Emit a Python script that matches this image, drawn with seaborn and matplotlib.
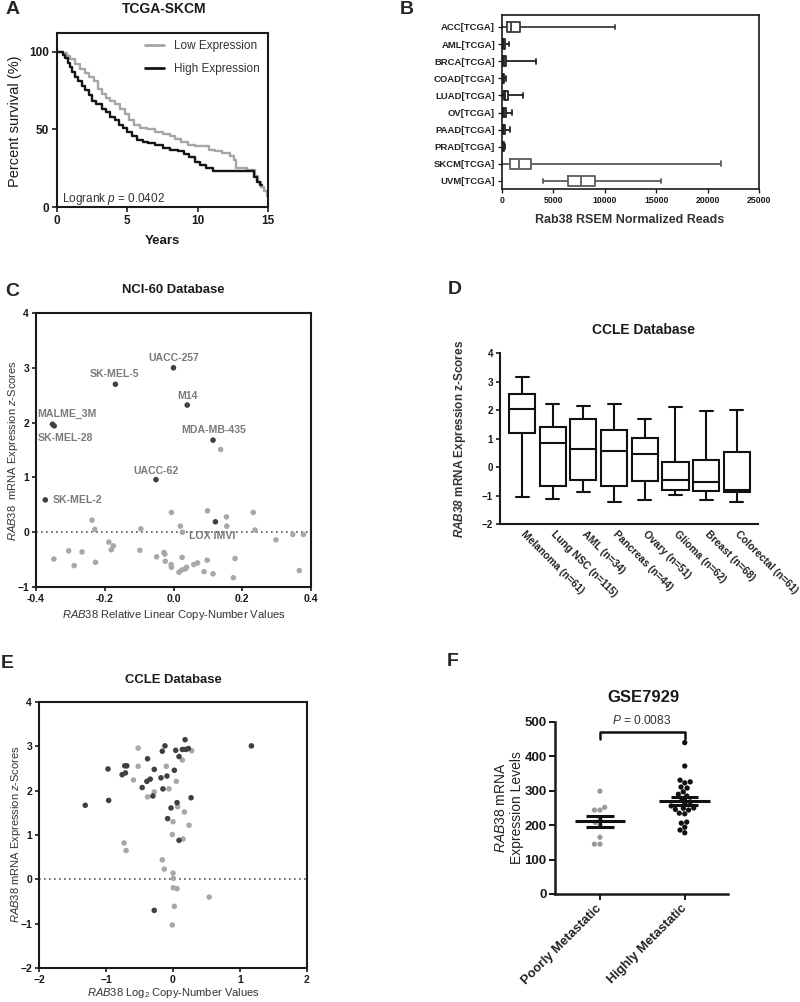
import numpy as np
import pandas as pd
import matplotlib
matplotlib.use("Agg")
import matplotlib.pyplot as plt
import seaborn as sns

# ---------------- data ----------------
# A: Kaplan-Meier steps (years, % survival)
high_t = [0, 0.4, 0.6, 0.8, 0.95, 1.1, 1.3, 1.5, 1.75, 2.0, 2.25, 2.5, 2.8, 3.2, 3.5, 3.8, 4.1, 4.4, 4.7, 5.0,
          5.3, 5.7, 6.1, 6.5, 7.0, 7.5, 8.0, 8.6, 9.0, 9.4, 9.8, 10.2, 10.6, 11.1, 14.0, 14.2, 14.4, 14.6]
high_s = [100, 98, 96, 93, 90, 87, 84, 81, 78, 75, 72, 68, 66, 63, 61, 58, 56, 53, 51, 48,
          46, 43, 42, 41, 40, 38, 37, 36, 34, 32, 29, 27, 25, 23, 19, 16, 14, 14]
low_t = [0, 0.4, 0.7, 0.95, 1.3, 1.6, 2.0, 2.3, 2.6, 2.9, 3.2, 3.5, 3.8, 4.1, 4.5, 4.8, 5.1, 5.5, 5.9, 6.4,
         7.0, 7.5, 8.0, 8.4, 8.8, 9.3, 9.8, 10.3, 10.8, 11.2, 11.7, 12.3, 12.6, 12.7, 13.5, 14.1, 14.3, 14.5,
         14.7, 14.9, 15.0]
low_s = [100, 99, 97, 95, 92, 89, 86, 84, 81, 76, 73, 70, 68, 66, 63, 60, 56, 53, 51, 50,
         48, 47, 46, 44, 42, 40, 39, 39, 37, 36, 35, 33, 30, 25, 24, 20, 16, 13, 10, 7, 7]

# B: five-number summaries (min, q1, median, q3, max)
b_cats = ["ACC[TCGA]", "AML[TCGA]", "BRCA[TCGA]", "COAD[TCGA]", "LUAD[TCGA]",
          "OV[TCGA]", "PAAD[TCGA]", "PRAD[TCGA]", "SKCM[TCGA]", "UVM[TCGA]"]
b_stats = [[0, 450, 920, 1730, 11000],
           [0, 50, 120, 250, 650],
           [0, 80, 200, 420, 3350],
           [0, 40, 100, 200, 420],
           [0, 150, 300, 600, 2000],
           [0, 60, 150, 350, 980],
           [0, 50, 120, 280, 750],
           [0, 30, 80, 160, 250],
           [0, 790, 1680, 2850, 21300],
           [3950, 6380, 7700, 9050, 15500]]

# C: NCI-60
c_mel_x = [0.0, -0.169, 0.040, -0.352, -0.347, 0.115, -0.051, -0.373, 0.122]
c_mel_y = [3.0, 2.70, 2.32, 1.97, 1.94, 1.68, 0.96, 0.59, 0.19]
c_mel_names = ["UACC-257", "SK-MEL-5", "M14", "MALME_3M", "SK-MEL-28",
               "MDA-MB-435", "UACC-62", "SK-MEL-2", "LOX IMVI"]
c_oth_x = [-0.006, 0.099, -0.237, -0.229, -0.095, 0.020, 0.026, 0.154, 0.155, 0.232, 0.237, 0.298,
           0.347, 0.378, -0.348, -0.305, -0.266, -0.289, -0.227, -0.188, -0.175, -0.181, -0.098,
           -0.049, -0.028, -0.025, -0.024, -0.007, -0.006, 0.025, 0.016, 0.024, 0.034, 0.038,
           0.059, 0.070, 0.098, 0.089, 0.115, 0.174, 0.179, 0.366, 0.137]
c_oth_y = [0.36, 0.39, 0.22, 0.05, 0.06, 0.11, 0.0, 0.28, 0.11, 0.36, 0.04, -0.14,
           -0.04, -0.04, -0.49, -0.34, -0.36, -0.61, -0.55, -0.18, -0.25, -0.32, -0.33,
           -0.45, -0.37, -0.40, -0.53, -0.59, -0.64, -0.46, -0.73, -0.69, -0.67, -0.64,
           -0.59, -0.56, -0.51, -0.72, -0.76, -0.83, -0.48, -0.70, 1.51]

# D: CCLE box summaries
d_cats = ["Melanoma (n=61)", "Lung NSC (n=115)", "AML (n=34)", "Pancreas (n=44)",
          "Ovary (n=51)", "Glioma (n=62)", "Breast (n=68)", "Colorectal (n=61)"]
d_stats = [[-1.04, 1.20, 2.05, 2.55, 3.15],
           [-1.11, -0.65, 0.84, 1.40, 2.22],
           [-0.88, -0.44, 0.63, 1.67, 2.13],
           [-1.23, -0.65, 0.56, 1.31, 2.22],
           [-1.17, -0.50, 0.47, 1.02, 1.67],
           [-0.99, -0.82, -0.46, 0.18, 2.11],
           [-1.15, -0.85, -0.54, 0.25, 1.97],
           [-1.23, -0.88, -0.80, 0.54, 2.00]]

# E: CCLE copy number vs expression
e_dark_x = [-1.31, -0.97, -0.96, -0.76, -0.71, -0.72, -0.69, -0.46, -0.38, -0.39, -0.34, -0.30,
            -0.28, -0.28, -0.18, -0.16, -0.12, -0.15, -0.09, -0.08, -0.03, 0.02, 0.04, 0.06,
            0.09, 0.09, 0.14, 0.18, 0.19, 0.23, 0.27, 1.17]
e_dark_y = [1.67, 2.49, 1.78, 2.36, 2.40, 2.56, 2.56, 2.07, 2.72, 2.21, 2.26, 1.88,
            2.48, -0.70, 2.29, 2.89, 3.01, 2.04, 2.33, 1.37, 1.61, 2.46, 2.91, 1.73,
            2.77, 0.88, 2.93, 3.15, 2.93, 2.95, 1.84, 3.01]
e_light_x = [-0.52, -0.52, -0.59, -0.73, -0.70, -0.38, -0.28, -0.10, -0.06, 0.05, 0.07, 0.14,
             0.17, 0.28, 0.24, 0.00, -0.01, 0.15, -0.16, -0.13, 0.00, 0.005, 0.005, 0.06,
             0.02, -0.01, 0.54]
e_light_y = [2.96, 2.55, 2.24, 0.82, 0.65, 1.86, 1.97, 2.55, 2.04, 2.21, 1.64, 2.69,
             1.52, 2.90, 1.22, 1.30, 1.01, 0.91, 0.44, 0.23, 0.14, 0.02, -0.19, -0.21,
             -0.61, -1.03, -0.40]

# F: GSE7929
f_poorly = [299, 252, 244, 244, 218, 208, 200, 165, 145, 145]
f_highly = [440, 372, 331, 326, 323, 311, 308, 297, 290, 285, 278, 268, 265, 256, 250,
            249, 246, 244, 235, 233, 209, 206, 194, 186, 178]
f_groups = ["Poorly Metastatic", "Highly Metastatic"]

# ---------------- style ----------------
sns.set_theme(style="white")
plt.rcParams["font.family"] = ["Liberation Sans", "DejaVu Sans"]
plt.rcParams["mathtext.fontset"] = "custom"
plt.rcParams["mathtext.rm"] = "Liberation Sans"
plt.rcParams["mathtext.it"] = "Liberation Sans:italic"
plt.rcParams["mathtext.bf"] = "Liberation Sans:bold"
plt.rcParams["mathtext.bfit"] = "Liberation Sans:italic:bold"

W, H = 800, 1002
fig = plt.figure(figsize=(W / 100, H / 100), dpi=100)
fig.patch.set_facecolor("white")


def add_ax(l, t, r, b):
    return fig.add_axes([l / W, 1 - b / H, (r - l) / W, (b - t) / H])


def ftext(x, y, s, **kw):
    kw.setdefault("ha", "center")
    kw.setdefault("va", "center")
    return fig.text(x / W, 1 - y / H, s, **kw)


def style_axes(ax, box=True, lw=1.5, fs=7.5, tl=3.5):
    for side in ["top", "right"]:
        ax.spines[side].set_visible(box)
    for sp in ax.spines.values():
        sp.set_linewidth(lw)
        sp.set_color("#1a1a1a")
    ax.tick_params(direction="out", length=tl, width=lw * 0.8, colors="#1a1a1a",
                   labelsize=fs, bottom=True, left=True, top=False, right=False, pad=2)
    for lab in ax.get_xticklabels() + ax.get_yticklabels():
        lab.set_fontweight("bold")
    ax.grid(False)
    ax.set_facecolor("white")


# ---------------- Panel A ----------------
axA = add_ax(57, 33, 268, 207)
dfA = pd.concat([
    pd.DataFrame({"t": low_t, "s": low_s, "g": "Low Expression"}),
    pd.DataFrame({"t": high_t, "s": high_s, "g": "High Expression"}),
])
sns.lineplot(data=dfA, x="t", y="s", hue="g", estimator=None, sort=False,
             drawstyle="steps-post", linewidth=1.7,
             palette={"Low Expression": "#a6a6a6", "High Expression": "#151515"},
             hue_order=["Low Expression", "High Expression"], ax=axA)
axA.set_xlim(0, 15)
axA.set_ylim(0, 112)
axA.set_xticks([0, 5, 10, 15])
axA.set_yticks([0, 50, 100])
axA.set_xlabel("")
axA.set_ylabel("")
style_axes(axA, box=True, lw=1.5, fs=8.5)
leg = axA.legend(frameon=False, loc="upper right", bbox_to_anchor=(1.01, 1.02), fontsize=8.5,
                 handlelength=1.6, handletextpad=0.8, labelspacing=0.9)
for t in leg.get_texts():
    t.set_color("#333333")
for l in leg.get_lines():
    l.set_linewidth(2)
axA.text(0.024, 0.046, r"Logrank $\mathit{p}$ = 0.0402", transform=axA.transAxes,
         fontsize=8.5, color="#333333", va="center", ha="left")
ftext(164, 9, "TCGA-SKCM", fontsize=10, fontweight="bold", color="#1a1a1a")
ftext(162, 241, "Years", fontsize=9.5, fontweight="bold", color="#1a1a1a")
ftext(15, 121, "Percent survival (%)", fontsize=10.5, rotation=90, color="#1a1a1a")
ftext(13, 10, "A", fontsize=14, fontweight="bold")

# ---------------- Panel B ----------------
axB = add_ax(502, 15, 759, 189)
dfB = pd.DataFrame({"cat": np.repeat(b_cats, 5), "v": np.concatenate(b_stats)})
colB = {c: "#222222" for c in b_cats}
colB["SKCM[TCGA]"] = "#5a5a5a"
colB["UVM[TCGA]"] = "#5a5a5a"
colB["ACC[TCGA]"] = "#3a3a3a"
sns.boxplot(data=dfB, x="v", y="cat", hue="cat", order=b_cats, hue_order=b_cats,
            palette=colB, fill=False, whis=(0, 100), width=0.55, linewidth=1.3,
            legend=False, ax=axB)
axB.set_xlim(0, 25000)
axB.set_ylim(9.47, -0.70)
axB.set_xticks([0, 5000, 10000, 15000, 20000, 25000])
axB.set_xticklabels(["0", "5000", "10000", "15000", "20000", "25000"])
axB.set_xlabel("")
axB.set_ylabel("")
style_axes(axB, box=True, lw=1.2, fs=6.3, tl=3)
for lab in axB.get_yticklabels():
    lab.set_fontsize(6.8)
    lab.set_color("#222222")
ftext(630, 220, "Rab38 RSEM Normalized Reads", fontsize=9, fontweight="bold", color="#333333")
ftext(407, 10, "B", fontsize=14, fontweight="bold")

# ---------------- Panel C ----------------
axC = add_ax(36, 313, 311, 587)
dfC = pd.concat([
    pd.DataFrame({"x": c_oth_x, "y": c_oth_y, "g": "other"}),
    pd.DataFrame({"x": c_mel_x, "y": c_mel_y, "g": "mel"}),
])
axC.axhline(0, ls=(0, (1, 2)), color="#555555", lw=1.2, zorder=1)
sns.scatterplot(data=dfC, x="x", y="y", hue="g", palette={"other": "#a8a8a8", "mel": "#404040"},
                s=16, linewidth=0, legend=False, ax=axC, zorder=3)
axC.set_xlim(-0.4, 0.4)
axC.set_ylim(-1, 4)
axC.set_xticks([-0.4, -0.2, 0.0, 0.2, 0.4])
axC.set_xticklabels(["-0.4", "-0.2", "0.0", "0.2", "0.4"])
axC.set_yticks([-1, 0, 1, 2, 3, 4])
axC.set_xlabel("")
axC.set_ylabel("")
style_axes(axC, box=True, lw=1.5, fs=7.5, tl=3)
offsets = {"UACC-257": (0, 10, "center"), "SK-MEL-5": (-1, 10, "center"), "M14": (0, 9, "center"),
           "MALME_3M": (-15, 10, "left"), "SK-MEL-28": (-17, -12, "left"),
           "MDA-MB-435": (1, 10, "center"), "UACC-62": (0, 9, "center"),
           "SK-MEL-2": (7, 0, "left"), "LOX IMVI": (-3, -14, "center")}
for nm, x, y in zip(c_mel_names, c_mel_x, c_mel_y):
    dx, dy, ha = offsets[nm]
    axC.annotate(nm, (x, y), xytext=(dx, dy), textcoords="offset pixels", ha=ha, va="center",
                 fontsize=7.6, fontweight="bold", color="#7a7a7a", zorder=4)
ftext(173, 290, "NCI-60 Database", fontsize=9.4, fontweight="bold", color="#1a1a1a")
ftext(174, 615, r"$\mathit{RAB38}$ Relative Linear Copy-Number Values", fontsize=8, color="#333333")
ftext(13, 451, r"$\mathit{RAB38}$  mRNA Expression $\mathit{z}$-Scores", fontsize=8,
      rotation=90, color="#333333")
ftext(12, 291, "C", fontsize=14, fontweight="bold")

# ---------------- Panel D ----------------
axD = add_ax(500, 353, 758, 524)
dfD = pd.DataFrame({"cat": np.repeat(d_cats, 5), "v": np.concatenate(d_stats)})
sns.boxplot(data=dfD, x="cat", y="v", order=d_cats, color="white", linecolor="#111111",
            linewidth=1.5, whis=(0, 100), width=0.85, ax=axD)
axD.set_xlim(-0.72, 7.69)
axD.set_ylim(-2, 4)
axD.set_yticks([-2, -1, 0, 1, 2, 3, 4])
axD.set_xlabel("")
axD.set_ylabel("")
style_axes(axD, box=False, lw=1.5, fs=7, tl=3)
axD.tick_params(axis="x", length=0)
for lab in axD.get_xticklabels():
    lab.set_rotation(-45)
    lab.set_ha("left")
    lab.set_va("center")
    lab.set_rotation_mode("anchor")
    lab.set_fontsize(7.5)
    lab.set_color("#222222")
axD.tick_params(axis="x", pad=6)
ftext(643, 330, "CCLE Database", fontsize=10, fontweight="bold", color="#1a1a1a")
ftext(460, 439, r"$\mathbfit{RAB38}$ mRNA Expression z-Scores", fontsize=8.5, fontweight="bold",
      rotation=90, color="#333333")
ftext(455, 290, "D", fontsize=14, fontweight="bold")

# ---------------- Panel E ----------------
axE = add_ax(39, 702, 307, 968)
dfE = pd.concat([
    pd.DataFrame({"x": e_light_x, "y": e_light_y, "g": "light"}),
    pd.DataFrame({"x": e_dark_x, "y": e_dark_y, "g": "dark"}),
])
axE.axhline(0, ls=(0, (1, 2)), color="#555555", lw=1.2, zorder=1)
sns.scatterplot(data=dfE, x="x", y="y", hue="g", palette={"light": "#a8a8a8", "dark": "#404040"},
                s=16, linewidth=0, legend=False, ax=axE, zorder=3)
axE.set_xlim(-2, 2)
axE.set_ylim(-2, 4)
axE.set_xticks([-2, -1, 0, 1, 2])
axE.set_yticks([-2, -1, 0, 1, 2, 3, 4])
axE.set_xlabel("")
axE.set_ylabel("")
style_axes(axE, box=True, lw=1.5, fs=7.5, tl=3)
ftext(173, 680, "CCLE Database", fontsize=9.4, fontweight="bold", color="#1a1a1a")
ftext(173, 993, r"$\mathit{RAB38}$ Log$_2$ Copy-Number Values", fontsize=8, color="#333333")
ftext(16, 834, r"$\mathit{RAB38}$ mRNA Expression $\mathit{z}$-Scores", fontsize=8,
      rotation=90, color="#333333")
ftext(7, 663, "E", fontsize=14, fontweight="bold")

# ---------------- Panel F ----------------
axF = add_ax(555, 722, 728, 894)
dfF = pd.concat([
    pd.DataFrame({"g": f_groups[0], "v": f_poorly}),
    pd.DataFrame({"g": f_groups[1], "v": f_highly}),
])
sns.swarmplot(data=dfF, x="g", y="v", hue="g", order=f_groups,
              palette={f_groups[0]: "#9a9a9a", f_groups[1]: "#111111"},
              size=3.8, legend=False, ax=axF, zorder=3)
for i, vals in enumerate([f_poorly, f_highly]):
    vals = np.asarray(vals, float)
    m = vals.mean()
    se = vals.std(ddof=1) / np.sqrt(len(vals))
    axF.hlines(m, i - 0.30, i + 0.30, color="#111111", lw=2.2, zorder=4)
    axF.vlines(i, m - se, m + se, color="#111111", lw=2.2, zorder=4)
    axF.hlines([m - se, m + se], i - 0.16, i + 0.16, color="#111111", lw=2.2, zorder=4)
axF.plot([0, 0, 1, 1], [450, 470, 470, 450], color="#111111", lw=1.8, zorder=4)
axF.set_xlim(-0.53, 1.51)
axF.set_ylim(0, 500)
axF.set_yticks([0, 100, 200, 300, 400, 500])
axF.set_xlabel("")
axF.set_ylabel("")
style_axes(axF, box=False, lw=1.8, fs=9.5, tl=4)
for lab in axF.get_xticklabels():
    lab.set_rotation(45)
    lab.set_ha("right")
    lab.set_va("center")
    lab.set_rotation_mode("anchor")
    lab.set_fontsize(9.4)
    lab.set_color("#222222")
axF.tick_params(axis="x", pad=5)
ftext(642, 721, r"$\mathit{P}$ = 0.0083", fontsize=8.6, color="#333333")
ftext(643, 697, "GSE7929", fontsize=12, fontweight="bold", color="#1a1a1a")
ftext(509, 808, "$\\mathit{RAB38}$ mRNA\nExpression Levels", fontsize=10, rotation=90,
      color="#222222", linespacing=1.1, multialignment="center")
ftext(453, 662, "F", fontsize=14, fontweight="bold")

fig.savefig("out.png", dpi=100, facecolor="white")
